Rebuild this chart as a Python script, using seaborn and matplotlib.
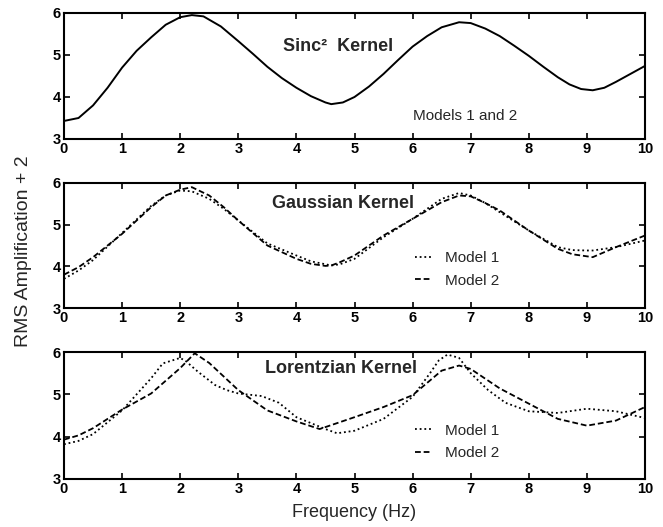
import numpy as np
import pandas as pd
import matplotlib
matplotlib.use("Agg")
import matplotlib.pyplot as plt
import seaborn as sns

# ---- data ----
sinc_x = [0, 0.25, 0.5, 0.75, 1, 1.25, 1.5, 1.75, 2, 2.2, 2.4, 2.7, 3, 3.25, 3.5, 3.75, 4, 4.25,
          4.5, 4.6, 4.8, 5, 5.25, 5.5, 5.75, 6, 6.25, 6.5, 6.8, 7, 7.25, 7.5, 7.75, 8, 8.25, 8.5,
          8.7, 8.9, 9.1, 9.3, 9.5, 9.75, 10]
sinc_y = [3.43, 3.5, 3.8, 4.22, 4.7, 5.1, 5.42, 5.72, 5.9, 5.95, 5.92, 5.68, 5.33, 5.03, 4.72,
          4.45, 4.22, 4.02, 3.87, 3.83, 3.87, 4.0, 4.25, 4.55, 4.88, 5.2, 5.45, 5.66, 5.78, 5.76,
          5.63, 5.45, 5.22, 4.98, 4.72, 4.47, 4.3, 4.19, 4.16, 4.22, 4.36, 4.55, 4.74]

gauss_x = [0, 0.25, 0.5, 1, 1.5, 1.75, 2, 2.2, 2.5, 2.75, 3, 3.5, 4, 4.25, 4.5, 4.6, 4.75, 5, 5.5,
           6, 6.5, 6.8, 7, 7.25, 7.5, 8, 8.5, 8.75, 9, 9.1, 9.5, 10]
gauss_m1 = [3.7, 3.9, 4.15, 4.8, 5.45, 5.7, 5.82, 5.8, 5.62, 5.38, 5.1, 4.55, 4.26, 4.12, 4.05,
            4.02, 4.05, 4.18, 4.7, 5.14, 5.62, 5.76, 5.7, 5.52, 5.3, 4.86, 4.46, 4.39, 4.38, 4.38,
            4.46, 4.62]
gauss_m2 = [3.8, 3.98, 4.22, 4.78, 5.42, 5.7, 5.84, 5.9, 5.7, 5.42, 5.1, 4.5, 4.18, 4.06, 4.01,
            4.02, 4.1, 4.26, 4.74, 5.14, 5.54, 5.7, 5.68, 5.52, 5.34, 4.86, 4.42, 4.29, 4.24, 4.22,
            4.46, 4.74]

lor_x1 = [0, 0.25, 0.5, 1, 1.5, 1.7, 2, 2.1, 2.3, 2.6, 2.8, 3, 3.4, 3.7, 4, 4.5, 4.7, 5, 5.5, 6,
          6.3, 6.45, 6.6, 6.8, 7, 7.3, 7.6, 8, 8.5, 9, 9.5, 10]
lor_m1 = [3.82, 3.9, 4.06, 4.62, 5.38, 5.73, 5.86, 5.78, 5.54, 5.22, 5.1, 5.02, 4.96, 4.8, 4.46,
          4.18, 4.08, 4.14, 4.42, 4.94, 5.5, 5.8, 5.94, 5.86, 5.5, 5.1, 4.8, 4.6, 4.56, 4.66,
          4.6, 4.44]
lor_x2 = [0, 0.25, 0.5, 1, 1.5, 2, 2.25, 2.5, 3, 3.5, 4, 4.4, 5, 5.5, 6, 6.5, 6.8, 7, 7.5, 8,
          8.5, 9, 9.5, 10]
lor_m2 = [3.93, 4.03, 4.2, 4.64, 5.02, 5.62, 5.97, 5.74, 5.1, 4.62, 4.36, 4.18, 4.46, 4.7, 4.98,
          5.56, 5.68, 5.6, 5.14, 4.78, 4.42, 4.26, 4.38, 4.7]

x_ticks = list(range(0, 11))
y_ticks = [3, 4, 5, 6]
titles = ["Sinc\u00b2  Kernel", "Gaussian Kernel", "Lorentzian Kernel"]

sns.set_theme(style="ticks")
plt.rcParams["font.family"] = ["Liberation Sans", "DejaVu Sans"]

fig = plt.figure(figsize=(6.63, 5.27), dpi=100)
left, width = 64 / 663, 581 / 663
boxes = [(1 - 139 / 527, 126 / 527), (1 - 308 / 527, 125 / 527), (1 - 479 / 527, 127 / 527)]
axes = [fig.add_axes([left, b, width, h]) for b, h in boxes]

dot = (0, (1, 1.6))
dash = (0, (3.2, 1.6))

sns.lineplot(x=sinc_x, y=sinc_y, ax=axes[0], color="black", lw=1.4)
sns.lineplot(x=gauss_x, y=gauss_m1, ax=axes[1], color="black", lw=1.3, linestyle=dot, label="Model 1")
sns.lineplot(x=gauss_x, y=gauss_m2, ax=axes[1], color="black", lw=1.3, linestyle=dash, label="Model 2")
sns.lineplot(x=lor_x1, y=lor_m1, ax=axes[2], color="black", lw=1.3, linestyle=dot, label="Model 1")
sns.lineplot(x=lor_x2, y=lor_m2, ax=axes[2], color="black", lw=1.3, linestyle=dash, label="Model 2")

for i, ax in enumerate(axes):
    ax.set_xlim(0, 10)
    ax.set_ylim(3, 6)
    ax.set_xticks(x_ticks)
    ax.set_yticks(y_ticks)
    ax.tick_params(direction="in", length=4, width=1.2, top=True, right=True,
                   labelsize=10.5, pad=2.5, colors="black")
    for lab in ax.get_xticklabels() + ax.get_yticklabels():
        lab.set_fontweight("bold")
    for sp in ax.spines.values():
        sp.set_visible(True)
        sp.set_linewidth(1.5)
        sp.set_color("black")
    ax.set_xlabel("")
    ax.set_ylabel("")

axes[0].text(4.72, 5.2, titles[0], ha="center", va="center", fontsize=13, fontweight="bold")
axes[0].text(6.0, 3.55, "Models 1 and 2", ha="left", va="center", fontsize=11)
axes[1].text(4.8, 5.5, titles[1], ha="center", va="center", fontsize=13, fontweight="bold")
axes[2].text(4.77, 5.62, titles[2], ha="center", va="center", fontsize=13, fontweight="bold")

for ax, ytop in zip(axes[1:], [0.455, 0.435]):
    ax.legend(frameon=False, loc="upper left", bbox_to_anchor=(0.604, ytop),
              fontsize=11, handlelength=1.1, handletextpad=0.9, labelspacing=0.55,
              borderaxespad=0.0, borderpad=0.0)

fig.text(0.036, 0.524, "RMS Amplification + 2", rotation=90, ha="center", va="center", fontsize=14)
fig.text(0.534, 0.027, "Frequency (Hz)", ha="center", va="center", fontsize=13)

fig.savefig("out.png", dpi=100)
